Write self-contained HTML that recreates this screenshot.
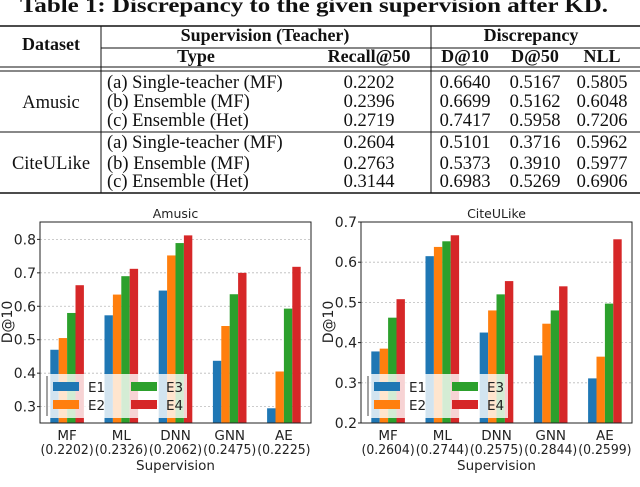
<!DOCTYPE html>
<html><head><meta charset="utf-8"><style>
html,body{margin:0;padding:0;background:#fff;width:640px;height:487px;overflow:hidden}
svg{display:block}
.s{font-family:"Liberation Serif",serif;fill:#111}
.d{font-family:"DejaVu Sans",sans-serif;fill:#222}
</style></head><body>
<svg id="root" width="640" height="487" xmlns="http://www.w3.org/2000/svg">
<g>
<text class="s" x="314" y="12" text-anchor="middle" font-size="21" font-weight="bold" textLength="588" lengthAdjust="spacingAndGlyphs">Table 1: Discrepancy to the given supervision after KD.</text>
<line x1="0" y1="26" x2="640" y2="26" stroke="#111" stroke-width="1.6"/>
<line x1="101" y1="48" x2="640" y2="48" stroke="#111" stroke-width="1"/>
<line x1="0" y1="67" x2="640" y2="67" stroke="#111" stroke-width="1"/>
<line x1="0" y1="71" x2="640" y2="71" stroke="#111" stroke-width="1"/>
<line x1="0" y1="132" x2="640" y2="132" stroke="#111" stroke-width="1"/>
<line x1="0" y1="193" x2="640" y2="193" stroke="#111" stroke-width="1.6"/>
<line x1="101" y1="26" x2="101" y2="193" stroke="#111" stroke-width="1"/>
<line x1="431" y1="26" x2="431" y2="193" stroke="#111" stroke-width="1"/>
<g font-weight="bold" font-size="18">
<text class="s" x="51" y="50" text-anchor="middle">Dataset</text>
<text class="s" x="265" y="41" text-anchor="middle">Supervision (Teacher)</text>
<text class="s" x="531" y="41" text-anchor="middle">Discrepancy</text>
<text class="s" x="196" y="62" text-anchor="middle">Type</text>
<text class="s" x="369" y="62" text-anchor="middle">Recall@50</text>
<text class="s" x="465" y="62" text-anchor="middle">D@10</text>
<text class="s" x="535" y="62" text-anchor="middle">D@50</text>
<text class="s" x="602" y="62" text-anchor="middle">NLL</text>
</g>
<g font-size="18.5">
<text class="s" x="51" y="108" text-anchor="middle">Amusic</text>
<text class="s" x="51" y="169" text-anchor="middle">CiteULike</text>
<g id="rows"></g>
</g>
</g>
<g id="charts"></g>
<text class="s" x="0" y="503" font-size="20" fill="#555">Figure 1: Discrepancy to the given supervision after KD.</text>
</svg>
<script>
const NS="http://www.w3.org/2000/svg";
const rowsData=[
["(a) Single-teacher (MF)","0.2202","0.6640","0.5167","0.5805"],
["(b) Ensemble (MF)","0.2396","0.6699","0.5162","0.6048"],
["(c) Ensemble (Het)","0.2719","0.7417","0.5958","0.7206"],
["(a) Single-teacher (MF)","0.2604","0.5101","0.3716","0.5962"],
["(b) Ensemble (MF)","0.2763","0.5373","0.3910","0.5977"],
["(c) Ensemble (Het)","0.3144","0.6983","0.5269","0.6906"]];
const rowY=[88,107,126,148,169,187];
function t(parent,txt,x,y,cls,attrs){const e=document.createElementNS(NS,'text');e.setAttribute('class',cls);e.setAttribute('x',x);e.setAttribute('y',y);for(const k in attrs)e.setAttribute(k,attrs[k]);e.textContent=txt;parent.appendChild(e);return e;}
const rg=document.getElementById('rows');
rowsData.forEach((r,i)=>{
 const xs=[[107,'start'],[369,'middle'],[465,'middle'],[535,'middle'],[602,'middle']];
 r.forEach((v,j)=>{const e=t(rg,v,xs[j][0],rowY[i],'s',{'text-anchor':xs[j][1]});
  
  });
});
const categories=["MF","ML","DNN","GNN","AE"];
const seriesNames=["E1","E2","E3","E4"];
const colors=["#1f77b4","#ff7f0e","#2ca02c","#d62728"];
const amusicRecall=["(0.2202)","(0.2326)","(0.2062)","(0.2475)","(0.2225)"];
const citeRecall=["(0.2604)","(0.2744)","(0.2575)","(0.2844)","(0.2599)"];
const amusicE1=[0.470,0.573,0.647,0.437,0.295];
const amusicE2=[0.505,0.635,0.752,0.541,0.405];
const amusicE3=[0.580,0.690,0.789,0.636,0.593];
const amusicE4=[0.663,0.712,0.812,0.700,0.718];
const citeE1=[0.378,0.615,0.425,0.368,0.311];
const citeE2=[0.385,0.638,0.480,0.447,0.365];
const citeE3=[0.462,0.652,0.520,0.480,0.497];
const citeE4=[0.508,0.667,0.553,0.540,0.657];
const amusicTicks=[0.3,0.4,0.5,0.6,0.7,0.8];
const citeTicks=[0.2,0.3,0.4,0.5,0.6,0.7];
const charts=document.getElementById('charts');
function chart(cfg){
 const g=document.createElementNS(NS,'g');charts.appendChild(g);
 
 
 const L=cfg.x0,R=cfg.x1,T=222,B=423;
 const y=v=>B-(v-cfg.ymin)/(cfg.ymax-cfg.ymin)*(B-T);
 const step=(R-L)/categories.length;
 const bw=step*0.155;
 const x=i=>L+step*(i+0.5);
 cfg.ticks.forEach(tv=>{
  const ln=document.createElementNS(NS,'line');
  ln.setAttribute('x1',L);ln.setAttribute('x2',R);ln.setAttribute('y1',y(tv));ln.setAttribute('y2',y(tv));
  ln.setAttribute('stroke','#bbb');ln.setAttribute('stroke-dasharray','2,2');ln.setAttribute('stroke-width','0.8');
  
  
  g.appendChild(ln);
  const tk=document.createElementNS(NS,'line');
  tk.setAttribute('x1',L-3);tk.setAttribute('x2',L);tk.setAttribute('y1',y(tv));tk.setAttribute('y2',y(tv));tk.setAttribute('stroke','#222');g.appendChild(tk);
  const e=t(g,tv.toFixed(1),L-4,y(tv)+5,'d',{'text-anchor':'end','font-size':'14'});
  
  
 });
 cfg.series.forEach((vals,s)=>{
  vals.forEach((v,i)=>{
   const r=document.createElementNS(NS,'rect');
   const bx=x(i)+(s-2)*bw;
   const top=Math.max(T,y(v));
   r.setAttribute('x',bx);r.setAttribute('width',bw);r.setAttribute('y',top);r.setAttribute('height',B-top);
   r.setAttribute('fill',colors[s]);
   
   
   g.appendChild(r);
  });
 });
 const fr=document.createElementNS(NS,'rect');
 fr.setAttribute('x',L);fr.setAttribute('y',T);fr.setAttribute('width',R-L);fr.setAttribute('height',B-T);
 fr.setAttribute('fill','none');fr.setAttribute('stroke','#222');fr.setAttribute('stroke-width','1');
 
 
 g.appendChild(fr);
 categories.forEach((c,i)=>{
  const a=t(g,c,x(i),440,'d',{'text-anchor':'middle','font-size':'13.5'});
  
  
  const b=t(g,cfg.recall[i],x(i),454,'d',{'text-anchor':'middle','font-size':'13.5','textLength':(step-1).toFixed(1),'lengthAdjust':'spacingAndGlyphs'});
  
  
 });
 const xt=t(g,'Supervision',(L+R)/2,470,'d',{'text-anchor':'middle','font-size':'13.5'});
 
 
 const ti=t(g,cfg.title,(L+R)/2,218,'d',{'text-anchor':'middle','font-size':'12.5'});
 
 
 const yt=t(g,'D@10',0,0,'d',{'text-anchor':'middle','font-size':'14','transform':'translate('+(cfg.x0-28)+',322) rotate(-90)'});
 
 
 const lg=document.createElementNS(NS,'g');g.appendChild(lg);
 
 
 const lx=L+5,ly=374;
 const bg=document.createElementNS(NS,'rect');
 bg.setAttribute('x',lx);bg.setAttribute('y',ly);bg.setAttribute('width',142);bg.setAttribute('height',44);
 bg.setAttribute('fill','#fff');bg.setAttribute('fill-opacity','0.8');lg.appendChild(bg);
 const vl=document.createElementNS(NS,'line');
 vl.setAttribute('x1',lx+2);vl.setAttribute('x2',lx+2);vl.setAttribute('y1',ly+2);vl.setAttribute('y2',ly+42);
 vl.setAttribute('stroke','#444');lg.appendChild(vl);
 seriesNames.forEach((n,s)=>{
  const col=Math.floor(s/2),row=s%2;
  const px=lx+8+col*78,py=ly+8+row*18;
  const p=document.createElementNS(NS,'rect');
  p.setAttribute('x',px);p.setAttribute('y',py);p.setAttribute('width',26);p.setAttribute('height',9);p.setAttribute('fill',colors[s]);
  
  
  lg.appendChild(p);
  const e=t(lg,n,px+35,py+10,'d',{'font-size':'13.5'});
  
  
 });
}
chart({name:'amusic-chart',short:'amusic',title:'Amusic',x0:40,x1:311,ymin:0.251,ymax:0.852,ticks:amusicTicks,recall:amusicRecall,series:[amusicE1,amusicE2,amusicE3,amusicE4]});
chart({name:'citeulike-chart',short:'citeulike',title:'CiteULike',x0:361,x1:632,ymin:0.2,ymax:0.7,ticks:citeTicks,recall:citeRecall,series:[citeE1,citeE2,citeE3,citeE4]});
</script>
</body></html>
